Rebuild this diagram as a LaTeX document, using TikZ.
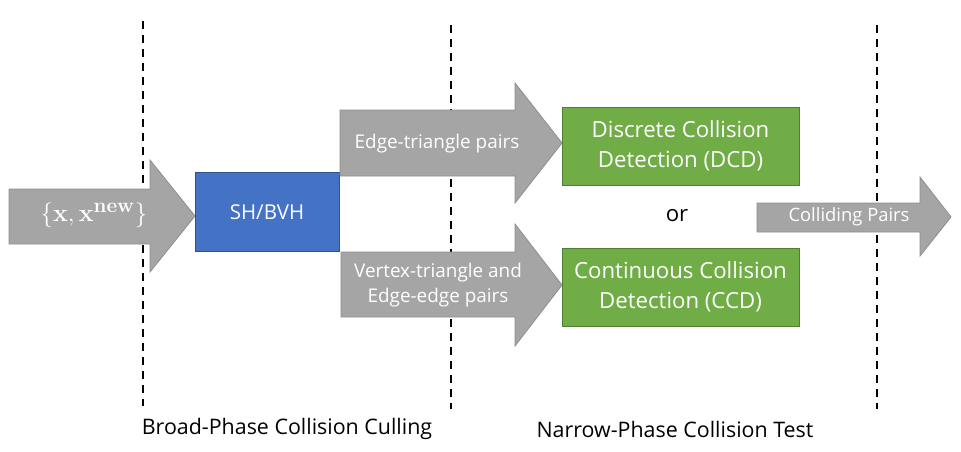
\documentclass[tikz,border=0pt]{standalone}
\usepackage[no-math]{fontspec}
\usepackage{amsmath}
\setmainfont{Open Sans}
\tikzset{
  grayarrow/.style={fill=arrowgray, draw=arrowedge, line width=0.8pt},
  bluebox/.style={fill=boxblue, draw=blueedge, line width=0.8pt},
  greenbox/.style={fill=boxgreen, draw=greenedge, line width=0.8pt},
  wlabel/.style={text=white, inner sep=0pt, align=center},
  divider/.style={line width=2pt, dash pattern=on 8pt off 6pt},
  phase/.style={inner sep=0pt, font=\fontsize{21.4}{24}\selectfont}
}
\definecolor{arrowgray}{HTML}{A5A5A5}
\definecolor{arrowedge}{HTML}{8E8E8E}
\definecolor{boxblue}{HTML}{4472C4}
\definecolor{blueedge}{HTML}{2F528F}
\definecolor{boxgreen}{HTML}{70AD47}
\definecolor{greenedge}{HTML}{507E32}
\begin{document}
\begin{tikzpicture}[x=1pt,y=-1pt]
\useasboundingbox (0,0) rectangle (961,452);
% dashed dividers
\coordinate (d1t) at (143,21); \coordinate (d1b) at (143,406);
\coordinate (d2t) at (451,25); \coordinate (d2b) at (451,409);
\coordinate (d3t) at (877,25); \coordinate (d3b) at (877,409);
\draw[divider] (d1t) -- (d1b);
\draw[divider] (d2t) -- (d2b);
\draw[divider] (d3t) -- (d3b);
% input arrow
\draw[grayarrow] (9,189) -- (150,189) -- (150,160) -- (195,216) -- (150,272) -- (150,244) -- (9,244) -- cycle;
\node[wlabel, font=\fontsize{32}{34}\selectfont] (inp) at (94,215) {$\{\mathbf{x},\mathbf{x}^{\mathbf{new}}\}$};
% SH/BVH
\node[bluebox, minimum width=144pt, minimum height=79pt, text=white, font=\fontsize{20.5}{24}\selectfont] (sh) at (267,212) {SH/BVH};
% upper arrow
\draw[grayarrow] (340,110) -- (515,110) -- (515,83) -- (562,143) -- (515,203) -- (515,176) -- (340,176) -- cycle;
\node[wlabel, font=\fontsize{18.9}{22}\selectfont] (et) at (437,144) {Edge-triangle pairs};
% lower arrow
\draw[grayarrow] (341,252) -- (515,252) -- (515,224) -- (562,285) -- (515,346) -- (515,317) -- (341,317) -- cycle;
\node[wlabel, font=\fontsize{18.9}{25}\selectfont] (vt) at (438,285) {Vertex-triangle and\\Edge-edge pairs};
% green boxes
\node[greenbox, minimum width=237pt, minimum height=78pt, wlabel, font=\fontsize{22.2}{30}\selectfont] (dcd) at (680.5,146) {Discrete Collision\\Detection (DCD)};
\node[greenbox, minimum width=237pt, minimum height=78pt, wlabel, font=\fontsize{22.2}{30}\selectfont] (ccd) at (680.5,287) {Continuous Collision\\Detection (CCD)};
\node[inner sep=0pt, font=\fontsize{22.2}{24}\selectfont] (or) at (677,216) {or};
% output arrow
\draw[grayarrow] (757,203) -- (920,203) -- (920,177) -- (951,217) -- (920,256) -- (920,232) -- (757,232) -- cycle;
\node[wlabel, font=\fontsize{18.4}{20}\selectfont] (cp) at (849,217) {Colliding Pairs};
% phase labels
\node[phase] (broad) at (287,429) {Broad-Phase Collision Culling};
\node[phase] (narrow) at (675,429) {Narrow-Phase Collision Test};
\end{tikzpicture}
\end{document}
